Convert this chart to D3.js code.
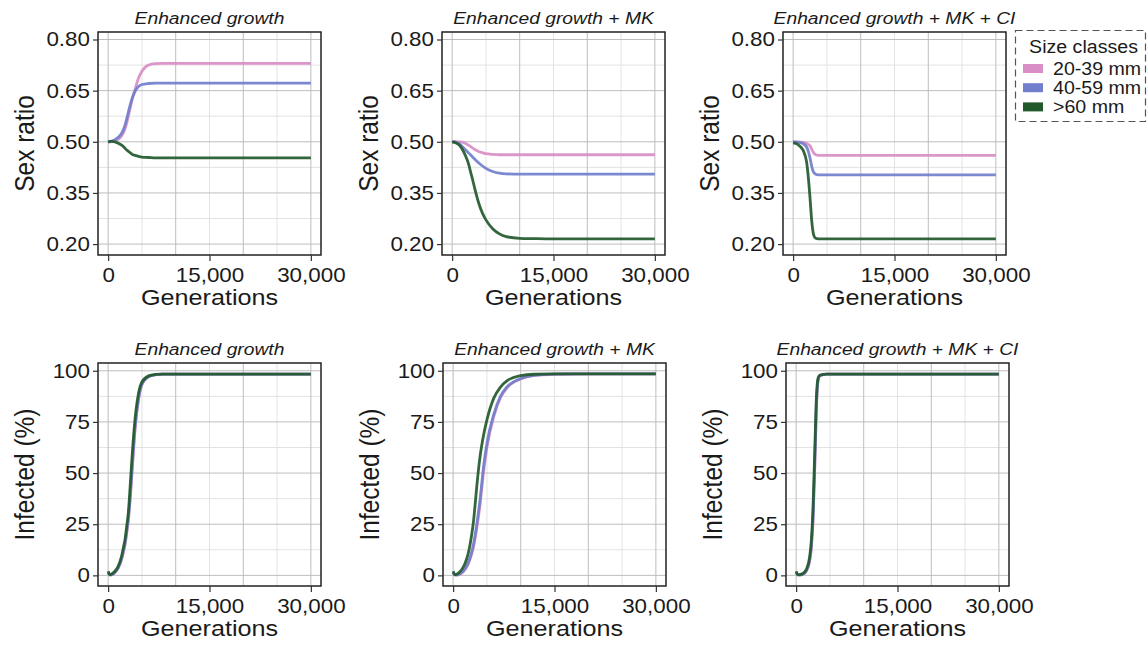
<!DOCTYPE html>
<html>
<head>
<meta charset="utf-8">
<script src="https://cdn.jsdelivr.net/npm/d3@7"></script>
<style>
  body { margin: 0; background: #fff; }
  svg text { font-family: "Liberation Sans", Arial, Helvetica, sans-serif; fill: #1a1a1a; }
</style>
</head>
<body>
<div id="chart"></div>
<script>
// ---- data ----
const generations = [0, 250, 500, 1000, 1500, 2000, 2250, 2500, 2750, 3000, 3250, 3500,
  4000, 4500, 5000, 6000, 7000, 8000, 10000, 12000, 15000, 20000, 30000];

const sizeClasses = ['20-39 mm', '40-59 mm', '>60 mm'];
const classColors = ['#d98ec6', '#717ecb', '#22592b'];
const panelTitles = ['Enhanced growth', 'Enhanced growth + MK', 'Enhanced growth + MK + CI'];

const sexTicks = [0.20, 0.35, 0.50, 0.65, 0.80];
const infTicks = [0, 25, 50, 75, 100];
const genTicks = [0, 15000, 30000];

// sex ratio, Enhanced growth
const sexEG_20 = [0.500, 0.500, 0.501, 0.503, 0.507, 0.518, 0.526, 0.538, 0.555, 0.575, 0.597, 0.620,
  0.655, 0.687, 0.707, 0.725, 0.729, 0.730, 0.730, 0.730, 0.730, 0.730, 0.730];
const sexEG_40 = [0.500, 0.500, 0.502, 0.506, 0.513, 0.525, 0.535, 0.549, 0.567, 0.588, 0.607, 0.624,
  0.649, 0.662, 0.668, 0.671, 0.672, 0.672, 0.672, 0.672, 0.672, 0.672, 0.672];
const sexEG_60 = [0.500, 0.501, 0.501, 0.500, 0.496, 0.490, 0.486, 0.481, 0.476, 0.472, 0.468, 0.464,
  0.460, 0.457, 0.455, 0.454, 0.453, 0.453, 0.453, 0.453, 0.453, 0.453, 0.453];
// sex ratio, + MK
const sexMK_20 = [0.500, 0.500, 0.500, 0.500, 0.499, 0.495, 0.492, 0.489, 0.486, 0.482, 0.479, 0.476,
  0.471, 0.468, 0.465, 0.463, 0.462, 0.462, 0.462, 0.462, 0.462, 0.462, 0.462];
const sexMK_40 = [0.500, 0.500, 0.500, 0.495, 0.486, 0.476, 0.471, 0.466, 0.461, 0.456, 0.451, 0.446,
  0.437, 0.429, 0.422, 0.413, 0.408, 0.406, 0.405, 0.405, 0.405, 0.405, 0.405];
const sexMK_60 = [0.500, 0.499, 0.497, 0.491, 0.478, 0.458, 0.446, 0.430, 0.410, 0.391, 0.371, 0.351,
  0.316, 0.290, 0.271, 0.245, 0.230, 0.222, 0.217, 0.216, 0.215, 0.215, 0.215];
// sex ratio, + MK + CI
const sexCI_20 = [0.500, 0.500, 0.500, 0.499, 0.498, 0.495, 0.492, 0.488, 0.478, 0.469, 0.463, 0.461,
  0.460, 0.460, 0.460, 0.460, 0.460, 0.460, 0.460, 0.460, 0.460, 0.460, 0.460];
const sexCI_40 = [0.500, 0.500, 0.499, 0.498, 0.494, 0.484, 0.472, 0.452, 0.428, 0.412, 0.406, 0.404,
  0.403, 0.403, 0.403, 0.403, 0.403, 0.403, 0.403, 0.403, 0.403, 0.403, 0.403];
const sexCI_60 = [0.497, 0.496, 0.494, 0.487, 0.474, 0.440, 0.395, 0.335, 0.268, 0.230, 0.218, 0.216,
  0.215, 0.215, 0.215, 0.215, 0.215, 0.215, 0.215, 0.215, 0.215, 0.215, 0.215];

// infected %, Enhanced growth
const infEG_20 = [1.2, 0.1, 0.2, 1.3, 3.5, 7.8, 11, 15, 20.5, 27, 36.5, 48.5,
  72, 86, 93.2, 97.1, 98.0, 98.4, 98.4, 98.4, 98.4, 98.4, 98.4];
const infEG_40 = [1.5, 0.2, 0.3, 1.5, 3.8, 8.3, 11.8, 15.8, 21.5, 28.5, 38, 50,
  73, 86.5, 93.5, 97.2, 98.1, 98.4, 98.4, 98.4, 98.4, 98.4, 98.4];
const infEG_60 = [2.0, 0.4, 0.6, 2.0, 4.5, 9.5, 13.5, 17.5, 24, 31, 43, 56,
  77, 89, 94.5, 97.5, 98.2, 98.4, 98.4, 98.4, 98.4, 98.4, 98.4];
// infected %, + MK
const infMK_20 = [1.2, 0.1, 0.1, 0.6, 1.8, 4.0, 5.7, 7.8, 10.5, 13.7, 18, 23,
  35, 50.5, 62.5, 77.5, 86.8, 91.8, 96, 97.7, 98.3, 98.5, 98.5];
const infMK_40 = [1.5, 0.2, 0.2, 0.8, 2.1, 4.5, 6.3, 8.6, 11.5, 15, 19.5, 25,
  37.5, 53, 64.5, 78.5, 87.5, 92.2, 96.2, 97.8, 98.4, 98.5, 98.5];
const infMK_60 = [2.0, 0.4, 0.5, 1.8, 4.0, 8.0, 11, 15, 20, 26, 34.5, 43.5,
  58.5, 68.5, 76, 86.5, 92, 95.2, 97.6, 98.3, 98.5, 98.5, 98.5];
// infected %, + MK + CI
const infCI_20 = [1.2, 0.1, 0.1, 0.5, 2.0, 7.0, 13.5, 27, 52, 81.5, 95, 97.5,
  98.1, 98.4, 98.4, 98.4, 98.4, 98.4, 98.4, 98.4, 98.4, 98.4, 98.4];
const infCI_40 = [1.5, 0.2, 0.2, 0.6, 2.2, 7.5, 14.5, 28.5, 54, 83, 95.5, 97.6,
  98.1, 98.4, 98.4, 98.4, 98.4, 98.4, 98.4, 98.4, 98.4, 98.4, 98.4];
const infCI_60 = [2.0, 0.4, 0.4, 0.9, 2.8, 9.0, 17, 33, 60, 87, 96.5, 97.8,
  98.2, 98.4, 98.4, 98.4, 98.4, 98.4, 98.4, 98.4, 98.4, 98.4, 98.4];

// ---- layout ----
const width = 1148, height = 649;
const SX = 1.12;           // text in the figure is slightly wide
const pw = 223, ph = 223;
const colLeft = [[98, 442, 783], [98, 443, 786]];
const rowTop = [32, 363];

const rows = [
  { yLabel: 'Sex ratio', ticks: sexTicks, domain: [0.168, 0.822], fmt: d3.format('.2f'),
    series: [[sexEG_20, sexEG_40, sexEG_60], [sexMK_20, sexMK_40, sexMK_60], [sexCI_20, sexCI_40, sexCI_60]] },
  { yLabel: 'Infected (%)', ticks: infTicks, domain: [-5.2, 103.8], fmt: d3.format('d'),
    series: [[infEG_20, infEG_40, infEG_60], [infMK_20, infMK_40, infMK_60], [infCI_20, infCI_40, infCI_60]] }
];

const svg = d3.select('#chart').append('svg')
  .attr('width', width)
  .attr('height', height);

function label(g, str, x, y, o) {
  const tr = o.rotate
    ? `translate(${x},${y}) rotate(-90) scale(1,${SX})`
    : `translate(${x},${y}) scale(${SX},1)`;
  const t = g.append('text')
    .attr('transform', tr)
    .attr('text-anchor', o.anchor || 'middle')
    .style('font-size', o.size + 'px')
    .text(str);
  if (o.italic) t.style('font-style', 'italic');
  return t;
}

rows.forEach((row, r) => {
  row.series.forEach((panelSeries, c) => {
    const left = colLeft[r][c], top = rowTop[r];
    const g = svg.append('g').attr('transform', `translate(${left},${top})`);

    const x = d3.scaleLinear().domain([-1500, 31500]).range([0, pw]);
    const y = d3.scaleLinear().domain(row.domain).range([ph, 0]);

    // grid
    const yMinor = d3.pairs(row.ticks).map(p => (p[0] + p[1]) / 2);
    const xMinor = [5000, 15000, 25000];
    const xMajor = [0, 10000, 20000, 30000];
    g.append('g').selectAll('line').data(yMinor).join('line')
      .attr('x1', 0).attr('x2', pw).attr('y1', d => y(d)).attr('y2', d => y(d))
      .attr('stroke', '#e3e3e3').attr('stroke-width', 1);
    g.append('g').selectAll('line').data(xMinor).join('line')
      .attr('y1', 0).attr('y2', ph).attr('x1', d => x(d)).attr('x2', d => x(d))
      .attr('stroke', '#e3e3e3').attr('stroke-width', 1);
    g.append('g').selectAll('line').data(row.ticks).join('line')
      .attr('x1', 0).attr('x2', pw).attr('y1', d => y(d)).attr('y2', d => y(d))
      .attr('stroke', '#bdbdbd').attr('stroke-width', 1);
    g.append('g').selectAll('line').data(xMajor).join('line')
      .attr('y1', 0).attr('y2', ph).attr('x1', d => x(d)).attr('x2', d => x(d))
      .attr('stroke', '#bdbdbd').attr('stroke-width', 1);

    // curves
    const line = d3.line()
      .x((d, i) => x(generations[i]))
      .y(d => y(d))
      .curve(d3.curveMonotoneX);
    panelSeries.forEach((vals, k) => {
      g.append('path')
        .datum(vals)
        .attr('d', line)
        .attr('fill', 'none')
        .attr('stroke', classColors[k])
        .attr('stroke-opacity', 0.92)
        .attr('stroke-width', 2.8)
        .attr('stroke-linejoin', 'round');
    });

    // frame
    g.append('rect')
      .attr('width', pw).attr('height', ph)
      .attr('fill', 'none').attr('stroke', '#222').attr('stroke-width', 1.5);

    // axes
    const ya = g.append('g')
      .call(d3.axisLeft(y).tickValues(row.ticks).tickFormat(row.fmt).tickSize(5).tickPadding(3));
    const xa = g.append('g')
      .attr('transform', `translate(0,${ph})`)
      .call(d3.axisBottom(x).tickValues(genTicks).tickFormat(d3.format(',')).tickSize(6).tickPadding(7));
    [ya, xa].forEach(a => {
      a.select('.domain').remove();
      a.selectAll('.tick line').attr('stroke', '#333').attr('stroke-width', 1.2);
      a.selectAll('.tick text')
        .attr('fill', '#1a1a1a')
        .style('font-size', '20px')
        .style('font-family', '"Liberation Sans", Arial, sans-serif');
    });
    ya.selectAll('.tick text').attr('transform', `scale(${SX},1)`).attr('x', -8 / SX);
    xa.selectAll('.tick text').attr('transform', `scale(${SX},1)`);

    // labels
    label(g, panelTitles[c], pw / 2, -8, { size: 17.2, italic: true });
    label(g, 'Generations', pw / 2, ph + 50, { size: 22.5 });
    label(g, row.yLabel, -64, ph / 2, { size: 24.5, rotate: true });
  });
});

// legend
const lg = svg.append('g').attr('transform', 'translate(1015.5,30.5)');
lg.append('rect')
  .attr('width', 130).attr('height', 91)
  .attr('fill', '#fff').attr('stroke', '#555').attr('stroke-width', 1.2)
  .attr('stroke-dasharray', '7,4');
label(lg, 'Size classes', 68, 22, { size: 17.5 });
sizeClasses.forEach((s, i) => {
  const cy = 38 + i * 19.2;
  lg.append('rect')
    .attr('x', 7.5).attr('y', cy - 4.5).attr('width', 20).attr('height', 9)
    .attr('fill', classColors[i]);
  label(lg, s, 37.5, cy + 6, { size: 17.5, anchor: 'start' });
});
</script>
</body>
</html>
